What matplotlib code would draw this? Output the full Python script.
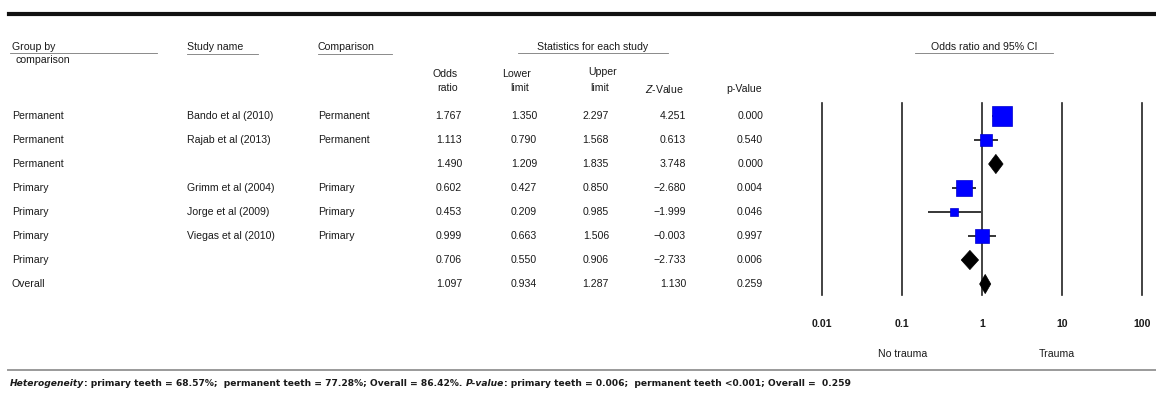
import matplotlib

matplotlib.use("Agg")
import matplotlib.pyplot as plt
from matplotlib.lines import Line2D
from matplotlib.patches import Polygon
from matplotlib.transforms import blended_transform_factory
import numpy as np

# ---------------------------------------------------------------------------
# Meta-analysis table: trauma vs. no trauma, grouped by dentition.
# ---------------------------------------------------------------------------
groups = ["Permanent", "Permanent", "Permanent", "Primary", "Primary",
          "Primary", "Primary", "Overall"]
studies = ["Bando et al (2010)", "Rajab et al (2013)", "", "Grimm et al (2004)",
           "Jorge et al (2009)", "Viegas et al (2010)", "", ""]
comparisons = ["Permanent", "Permanent", "", "Primary", "Primary", "Primary", "", ""]
odds_ratio = [1.767, 1.113, 1.490, 0.602, 0.453, 0.999, 0.706, 1.097]
lower = [1.350, 0.790, 1.209, 0.427, 0.209, 0.663, 0.550, 0.934]
upper = [2.297, 1.568, 1.835, 0.850, 0.985, 1.506, 0.906, 1.287]
z_value = [4.251, 0.613, 3.748, -2.680, -1.999, -0.003, -2.733, 1.130]
p_value = [0.000, 0.540, 0.000, 0.004, 0.046, 0.997, 0.006, 0.259]
is_summary = [False, False, True, False, False, False, True, True]
box_weight = [63, 29, 0, 50, 11, 34, 0, 0]

x_ticks = [0.01, 0.1, 1, 10, 100]
x_ticklabels = ["0.01", "0.1", "1", "10", "100"]

footer = [
    ("Heterogeneity", "italic"),
    (": primary teeth = 68.57%;  permanent teeth = 77.28%; Overall = 86.42%. ", "normal"),
    ("P-value", "italic"),
    (": primary teeth = 0.006;  permanent teeth <0.001; Overall =  0.259", "normal"),
]

W, H = 1156, 397
FONT = ["Liberation Sans", "DejaVu Sans"]
FS = 7.6
INK = "#1a1a1a"
plt.rcParams["font.family"] = FONT
plt.rcParams["text.color"] = INK
plt.rcParams["xtick.color"] = INK
plt.rcParams["mathtext.fontset"] = "custom"
plt.rcParams["mathtext.it"] = "Liberation Sans:italic"
plt.rcParams["mathtext.rm"] = "Liberation Sans"

fig = plt.figure(figsize=(W / 100, H / 100), dpi=100)


def fx(x):
    return x / W


def fy(y):
    return 1 - y / H


def hline(x0, x1, y, lw=0.6, color="#777777"):
    fig.add_artist(Line2D([fx(x0), fx(x1)], [fy(y), fy(y)], lw=lw, color=color,
                          transform=fig.transFigure))


# forest plot panel: 0.01..100 on a log axis, one row per table line
top, bottom, left, right = 103, 295, 822, 1142
ax = fig.add_axes([fx(left), fy(bottom), fx(right - left), (bottom - top) / H])
n = len(odds_ratio)
rows = np.arange(n)
row_px = 24.0
ax.set_xscale("log")
ax.set_xlim(x_ticks[0], x_ticks[-1])
ax.set_ylim((bottom - 116) / row_px, (top - 116) / row_px)
for s in ax.spines.values():
    s.set_visible(False)
ax.set_yticks([])
ax.set_xticks(x_ticks)
ax.set_xticklabels(x_ticklabels, fontsize=FS, fontweight="bold")
ax.tick_params(axis="x", length=0, pad=17)
ax.minorticks_off()

for xv in x_ticks:
    ax.axvline(xv, color="#222222", lw=1.2, clip_on=False, zorder=1)

for i in rows:
    if is_summary[i]:
        h = 0.4
        ax.add_patch(Polygon([(lower[i], i), (odds_ratio[i], i - h),
                              (upper[i], i), (odds_ratio[i], i + h)],
                             closed=True, facecolor="black", edgecolor="black",
                             lw=0.5, zorder=4))
    else:
        ax.hlines(i, lower[i], upper[i], color="black", lw=1.1, zorder=2)
        side_px = 2.4 * np.sqrt(box_weight[i])
        ax.plot(odds_ratio[i], i, marker="s", ms=side_px * 72 / 100,
                mfc="#0000ff", mec="#0000cc", mew=0.5, zorder=3)

fig.text(fx(903), fy(354), "No trauma", fontsize=FS, ha="center", va="center")
fig.text(fx(1057), fy(354), "Trauma", fontsize=FS, ha="center", va="center")

# ---------------------------------------------------------------------------
# Table columns, aligned to the forest rows.
# ---------------------------------------------------------------------------
row_tr = blended_transform_factory(fig.transFigure, ax.transData)


def num(v):
    return f"{v:.3f}".replace("-", "\u2212")


numeric_cols = [
    (462, odds_ratio),
    (537, lower),
    (609, upper),
    (686, z_value),
    (763, p_value),
]
for i in rows:
    fig.text(fx(12), i, groups[i], transform=row_tr, fontsize=FS, va="center")
    fig.text(fx(187), i, studies[i], transform=row_tr, fontsize=FS, va="center")
    fig.text(fx(318), i, comparisons[i], transform=row_tr, fontsize=FS, va="center")
    for x_right, values in numeric_cols:
        fig.text(fx(x_right), i, num(values[i]), transform=row_tr, fontsize=FS,
                 va="center", ha="right")

# headers
fig.text(fx(12), fy(47), "Group by", fontsize=FS, va="center")
fig.text(fx(16), fy(60), "comparison", fontsize=FS, va="center")
hline(10, 157, 53)
fig.text(fx(187), fy(47), "Study name", fontsize=FS, va="center")
hline(187, 258, 54)
fig.text(fx(318), fy(47), "Comparison", fontsize=FS, va="center")
hline(318, 392, 54)
fig.text(fx(593), fy(47), "Statistics for each study", fontsize=FS,
         ha="center", va="center")
hline(518, 668, 53)
fig.text(fx(984), fy(47), "Odds ratio and 95% CI", fontsize=FS,
         ha="center", va="center")
hline(915, 1053, 53)

fig.text(fx(458), fy(74), "Odds", fontsize=FS, ha="right", va="center")
fig.text(fx(458), fy(88), "ratio", fontsize=FS, ha="right", va="center")
fig.text(fx(531), fy(74), "Lower", fontsize=FS, ha="right", va="center")
fig.text(fx(529), fy(88), "limit", fontsize=FS, ha="right", va="center")
fig.text(fx(588), fy(72), "Upper", fontsize=FS, ha="left", va="center")
fig.text(fx(609), fy(88), "limit", fontsize=FS, ha="right", va="center")
fig.text(fx(684), fy(89), "$Z$-Value", fontsize=FS, ha="right", va="center")
fig.text(fx(762), fy(89), "p-Value", fontsize=FS, ha="right", va="center")

# rules above and below the table
hline(9, W, 14, lw=3.0, color="#111111")
hline(8, W, 370, lw=1.4, color="#9a9a9a")

# heterogeneity footnote, pieced together so the italic words can differ
renderer = fig.canvas.get_renderer()
x = 10
for txt, style in footer:
    t = fig.text(fx(x), fy(384), txt, fontsize=6.6, va="center", style=style,
                 fontweight="bold", family=["Liberation Sans Narrow", "DejaVu Sans"])
    x = t.get_window_extent(renderer).x1

fig.savefig("out.png", dpi=100)
